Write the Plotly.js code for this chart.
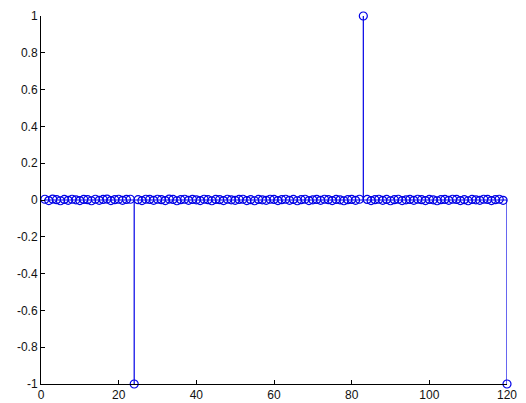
<!DOCTYPE html>
<html>
<head>
<meta charset="utf-8">
<script src="https://cdn.plot.ly/plotly-3.0.1.min.js"></script>
<style>html,body{margin:0;padding:0;background:#fff;}#chart{width:526px;height:403px;}</style>
</head>
<body>
<div id="chart"></div>
<script>
// sample index n = 1..120
const sampleIndex = Array.from({length: 120}, (_, i) => i + 1);
// stem values (small residuals near zero, three spikes)
const sampleValues = [
  0.004, -0.003, 0.005, 0.002, -0.004, 0.003, -0.002, 0.004, 0.001, -0.003,
  0.003, 0.002, -0.004, 0.004, -0.002, 0.003, 0.005, -0.003, 0.002, 0.004,
  -0.002, 0.003, 0.004, -1.0, 0.002, -0.003, 0.004, 0.003, -0.002, 0.004,
  0.002, -0.003, 0.005, 0.003, -0.004, 0.002, 0.004, -0.002, 0.003, 0.001,
  -0.003, 0.004, 0.002, -0.004, 0.003, 0.002, -0.003, 0.004, 0.001, -0.002,
  0.003, 0.004, -0.003, 0.002, -0.004, 0.003, 0.001, -0.002, 0.004, 0.003,
  -0.003, 0.002, 0.004, -0.002, 0.003, -0.004, 0.002, 0.004, -0.003, 0.001,
  0.003, -0.002, 0.004, 0.002, -0.003, 0.003, 0.001, -0.004, 0.002, 0.003,
  -0.002, 0.004, 1.0, 0.003, -0.003, 0.002, 0.004, -0.002, 0.003, -0.004,
  0.002, 0.004, -0.003, 0.001, 0.003, -0.002, 0.004, 0.002, -0.003, 0.003,
  0.001, -0.004, 0.002, 0.003, -0.002, 0.004, 0.003, -0.003, 0.002, -0.004,
  0.003, 0.001, -0.002, 0.004, 0.003, -0.003, 0.002, 0.004, -0.002, -1.0
];
const xTicks = [0, 20, 40, 60, 80, 100, 120];
const yTicks = [-1, -0.8, -0.6, -0.4, -0.2, 0, 0.2, 0.4, 0.6, 0.8, 1];
const yTickText = ['-1', '-0.8', '-0.6', '-0.4', '-0.2', '0', '0.2', '0.4', '0.6', '0.8', '1'];

const stemX = [], stemY = [];
sampleIndex.forEach((n, i) => { stemX.push(n, n, null); stemY.push(0, sampleValues[i], null); });

const blue = 'rgb(0,0,230)';
const traces = [
  {x: [sampleIndex[0], sampleIndex[sampleIndex.length - 1]], y: [0, 0], mode: 'lines',
   line: {color: blue, width: 1}, hoverinfo: 'skip', cliponaxis: false},
  {x: stemX, y: stemY, mode: 'lines', line: {color: blue, width: 1.2}, hoverinfo: 'skip',
   connectgaps: false, cliponaxis: false},
  {x: sampleIndex, y: sampleValues, mode: 'markers', cliponaxis: false,
   marker: {symbol: 'circle-open', size: 8, color: blue, line: {color: blue, width: 1.2}}}
];

const axisCommon = {
  showgrid: false, zeroline: false, showline: true, linecolor: '#000', linewidth: 1,
  ticks: 'inside', ticklen: 4, tickcolor: '#000', tickwidth: 1,
  tickfont: {family: 'Liberation Sans, Arial, sans-serif', size: 12, color: '#111'}
};

const layout = {
  width: 526, height: 403,
  margin: {l: 41, r: 19, t: 16, b: 19},
  paper_bgcolor: '#fff', plot_bgcolor: '#fff',
  showlegend: false,
  xaxis: Object.assign({}, axisCommon, {range: [0, 120], tickvals: xTicks, ticktext: xTicks.map(String)}),
  yaxis: Object.assign({}, axisCommon, {range: [-1, 1], tickvals: yTicks, ticktext: yTickText})
};

Plotly.newPlot('chart', traces, layout, {displayModeBar: false, staticPlot: true});
</script>
</body>
</html>
